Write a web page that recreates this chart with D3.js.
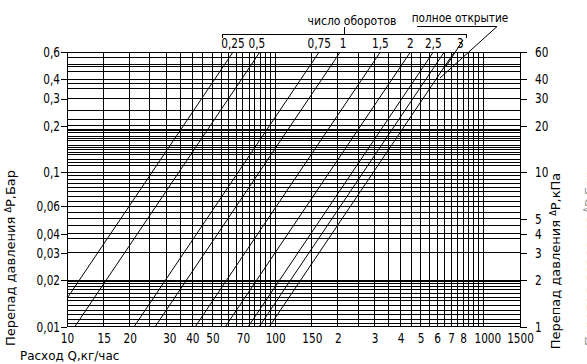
<!DOCTYPE html>
<meta charset="utf-8">
<style>
    body { margin: 0; background: #fff; }
    svg { display: block; }
    text { font-family: "DejaVu Sans", sans-serif; fill: #000; }
</style>
<body>
<script src="https://cdn.jsdelivr.net/npm/d3@7/dist/d3.min.js"></script>
<script>
// flow coefficient of each curve: Q (kg/h) at dp = 1 bar
var turnLabels = ["0,25", "0,5", "0,75", "1", "1,5", "2", "2,5", "3", ""];
var kvFlow     = [81, 109, 210, 265, 413, 576, 742, 838, 937];

var xTickVals  = [10, 15, 20, 30, 40, 50, 70, 100, 150, 200, 300, 400, 500, 600, 700, 800, 1000, 1500];
var xTickText  = ["10", "15", "20", "30", "40", "50", "70", "100", "150", "2", "3", "4", "5", "6", "7", "8", "1000", "1500"];
var xGrid      = [10, 15, 20, 25, 30, 35, 40, 45, 50, 55, 60, 65, 70, 75, 80, 85, 90, 95, 100,
                  150, 200, 250, 300, 350, 400, 450, 500, 550, 600, 650, 700, 750, 800, 850, 900, 950, 1000, 1500];

var barTicks   = [0.6, 0.4, 0.3, 0.2, 0.1, 0.06, 0.04, 0.03, 0.02, 0.01];
var barText    = ["0,6", "0,4", "0,3", "0,2", "0,1", "0,06", "0,04", "0,03", "0,02", "0,01"];
var kpaTicks   = [60, 40, 30, 20, 10, 5, 4, 3, 2, 1];
var yGrid      = [0.6, 0.55, 0.5, 0.48, 0.45, 0.4, 0.375, 0.35, 0.3, 0.25, 0.22, 0.2,
                  0.19, 0.185, 0.18, 0.17, 0.165, 0.16, 0.15, 0.145, 0.14, 0.135, 0.13, 0.12, 0.115, 0.11, 0.1,
                  0.095, 0.09, 0.085, 0.08, 0.075, 0.07, 0.065, 0.06, 0.055, 0.05, 0.045, 0.04, 0.037, 0.03,
                  0.02, 0.0197, 0.019, 0.0183, 0.0174, 0.0164, 0.0155, 0.0147, 0.0138, 0.0128, 0.012, 0.0112, 0.0105, 0.01];

var W = 587, H = 364;
var pl = 67, pr = 520, pt = 52, pb = 326.7;

var svg = d3.select("body").append("svg")
    .attr("width", W)
    .attr("height", H);

var x = d3.scaleLog().domain([10, 1500]).range([pl, pr]);
var y = d3.scaleLog().domain([0.01, 0.6]).range([pb, pt]);
var yk = d3.scaleLog().domain([1, 60]).range([pb, pt]);

// narrow the glyphs to look like the drafting font
function squeeze(sel, k) {
    sel.each(function() {
        var w = this.getComputedTextLength();
        d3.select(this).attr("textLength", w * k).attr("lengthAdjust", "spacingAndGlyphs");
    });
}

// grid
var grid = svg.append("g")
    .attr("stroke", "#000")
    .attr("stroke-width", 1)
    .attr("shape-rendering", "crispEdges");

grid.selectAll("line.v")
    .data(xGrid)
    .enter().append("line")
    .attr("x1", function(d) { return x(d); })
    .attr("x2", function(d) { return x(d); })
    .attr("y1", pt)
    .attr("y2", pb);

grid.selectAll("line.h")
    .data(yGrid)
    .enter().append("line")
    .attr("x1", pl)
    .attr("x2", pr)
    .attr("y1", function(d) { return y(d); })
    .attr("y2", function(d) { return y(d); });

// curves, dp = (Q / kv)^2
svg.append("clipPath").attr("id", "plot")
    .append("rect")
    .attr("x", pl).attr("y", pt)
    .attr("width", pr - pl).attr("height", pb - pt);

var line = d3.line()
    .x(function(d) { return x(d[0]); })
    .y(function(d) { return y(d[1]); });

svg.append("g")
    .attr("clip-path", "url(#plot)")
    .selectAll("path")
    .data(kvFlow)
    .enter().append("path")
    .attr("fill", "none")
    .attr("stroke", "#000")
    .attr("stroke-width", 1)
    .attr("d", function(kv) {
        var pts = [1, 5000].map(function(q) { return [q, Math.pow(q / kv, 2)]; });
        return line(pts);
    });

// axes
function styleAxis(g) {
    g.select(".domain").remove();
    g.selectAll("text").attr("font-family", null).style("font-size", "14px");
    g.selectAll("line").attr("stroke", "#000").attr("shape-rendering", "crispEdges");
    squeeze(g.selectAll("text"), 0.75);
}

var xAxisG = svg.append("g")
    .attr("transform", "translate(0," + pb + ")")
    .call(d3.axisBottom(x).tickValues(xTickVals).tickSize(0).tickPadding(6.7)
        .tickFormat(function(d, i) { return xTickText[i]; }))
    .call(styleAxis);
xAxisG.selectAll("text").attr("dx", function(d) { return d == 1000 ? 4 : d == 30 ? 3 : 0; });

svg.append("g")
    .attr("transform", "translate(" + pl + ",0)")
    .call(d3.axisLeft(y).tickValues(barTicks).tickSize(6).tickPadding(1)
        .tickFormat(function(d, i) { return barText[i]; }))
    .call(styleAxis);

svg.append("g")
    .attr("transform", "translate(" + pr + ",0)")
    .call(d3.axisRight(yk).tickValues(kpaTicks).tickSize(7).tickPadding(8)
        .tickFormat(function(d) { return d; }))
    .call(styleAxis);

// curve labels along the top
var topQ = kvFlow.map(function(kv) { return kv * Math.sqrt(0.6); });
svg.append("g").selectAll("text")
    .data(turnLabels)
    .enter().append("text")
    .attr("x", function(d, i) { return x(topQ[i]) + (i == 7 ? 16 : i == 1 ? -3 : i == 3 ? 3 : 0); })
    .attr("y", 48)
    .attr("text-anchor", "middle")
    .style("font-size", "14px")
    .text(function(d) { return d; })
    .call(squeeze, 0.75);

var ann = svg.append("g").attr("stroke", "#000").attr("fill", "none");
// bracket
ann.append("path").attr("d", "M222,38V34H466V38").attr("shape-rendering", "crispEdges");
ann.append("path").attr("d", "M344.5,27V34").attr("shape-rendering", "crispEdges");
// leaders
ann.append("path").attr("d", "M417,26.5H497L440,78");
ann.append("path").attr("d", "M463,40L446,66.5H435");

svg.append("text").attr("x", 352).attr("y", 25).attr("text-anchor", "middle")
    .style("font-size", "13px").text("число оборотов").call(squeeze, 0.83);
svg.append("text").attr("x", 460).attr("y", 22).attr("text-anchor", "middle")
    .style("font-size", "13px").text("полное открытие").call(squeeze, 0.81);

// axis titles
svg.append("text").attr("x", 20).attr("y", 360)
    .style("font-size", "13px").text("Расход Q,кг/час").call(squeeze, 0.92);

function ptitle(cx, cy, unit, fill) {
    var t = svg.append("text")
        .attr("transform", "translate(" + cx + "," + cy + ") rotate(-90)")
        .attr("text-anchor", "middle")
        .style("font-size", "13px")
        .style("fill", fill);
    t.append("tspan").text("Перепад  давления  ");
    t.append("tspan").style("font-size", "8px").attr("dy", -4).text("Δ");
    t.append("tspan").attr("dy", 4).text("P," + unit);
}
ptitle(14.5, 258, "Бар", "#000");
ptitle(560, 261, "кПа", "#000");
ptitle(594, 258, "Бар", "#999");
</script>
</body>
